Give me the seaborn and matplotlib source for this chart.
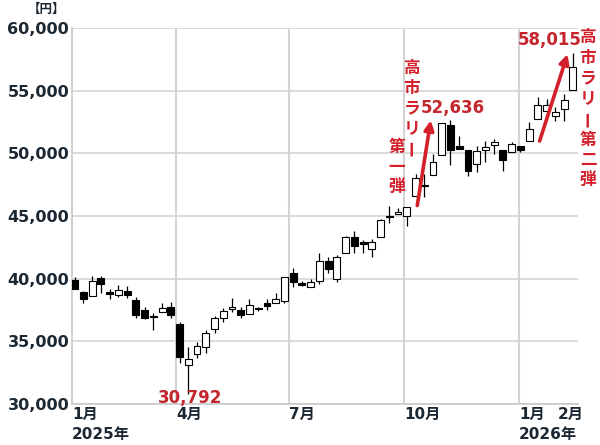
import numpy as np
import pandas as pd
import seaborn as sns
import matplotlib.pyplot as plt

# weekly candles (week ending Friday), Jan 2025 - Feb 2026
first_week = '2025-01-10'
opens = [39920, 38960, 38640, 40080, 38960, 38720, 39040, 38320, 37520, 37000,
         37360, 37760, 36400, 33120, 34000, 34560, 36000, 36880, 37620, 37520,
         37200, 37660, 38080, 38080, 38240, 40480, 39680, 39360, 39840, 41440,
         40000, 42080, 43360, 42960, 42400, 43360, 44920, 45200, 45040, 46560,
         47480, 48240, 49840, 52240, 50560, 50240, 49120, 50240, 50640, 50240,
         50080, 50560, 50960, 52720, 53360, 52960, 53520, 55040]
highs = [40160, 39000, 40240, 40200, 39200, 39520, 39440, 38560, 37760, 37280,
         38080, 38160, 36560, 34580, 34960, 35920, 37040, 37680, 38480, 37760,
         38400, 37760, 38400, 38880, 40160, 40880, 39840, 40000, 42080, 41760,
         41920, 43400, 43840, 43120, 43200, 44800, 45840, 45680, 45760, 48320,
         48320, 49920, 52400, 52636, 51360, 50240, 50560, 50960, 51120, 50240,
         50880, 50560, 52480, 54480, 54320, 53680, 54720, 58015]
lows = [39150, 38080, 38640, 38880, 38400, 38560, 38480, 36880, 36800, 35920,
        37360, 36880, 33280, 30792, 33680, 34080, 35680, 36560, 37360, 36880,
        37200, 37440, 37520, 38080, 38080, 39360, 39440, 39360, 39600, 40480,
        39760, 42080, 42080, 42080, 41760, 43360, 44480, 45200, 44240, 46560,
        46480, 48240, 49840, 49040, 50320, 48160, 48480, 49280, 49920, 48560,
        50080, 50080, 50960, 52720, 53280, 52560, 52560, 55040]
closes = [39200, 38400, 39840, 39600, 38800, 39120, 38720, 37120, 36880, 36940,
          37680, 37120, 33760, 33600, 34640, 35680, 36880, 37440, 37740, 37120,
          37920, 37580, 37840, 38400, 40160, 39760, 39520, 39760, 41440, 40800,
          41760, 43360, 42640, 42800, 42960, 44720, 45000, 45360, 45760, 48000,
          47400, 49280, 52400, 50240, 50320, 48560, 50160, 50480, 50880, 49440,
          50720, 50240, 51920, 53840, 53840, 53280, 54240, 56880]

y_ticks = [30000, 35000, 40000, 45000, 50000, 55000, 60000]
month_lines = ['2025-04-01', '2025-07-01', '2025-10-01', '2026-01-01']
x_tick_dates = ['2025-01-07 20:00', '2025-04-01 00:00', '2025-07-01 00:00',
                '2025-10-01 00:00', '2026-01-01 00:00', '2026-02-01 00:00']
x_tick_labels = ['1月\n2025年', '4月', '7月', '10月', '1月\n2026年', '2月']

low_label = '30,792'
high1_label = '52,636'
high2_label = '58,015'

df = pd.DataFrame({
    'date': pd.date_range(first_week, periods=len(opens), freq='W-FRI'),
    'open': opens, 'high': highs, 'low': lows, 'close': closes,
})
df['up'] = df['close'] >= df['open']
df['bottom'] = df[['open', 'close']].min(axis=1)
df['body'] = (df['close'] - df['open']).abs().clip(lower=90)

sns.set_style('white')
plt.rcParams['font.family'] = ['DejaVu Sans', 'Noto Sans CJK JP']

fig = plt.figure(figsize=(6, 4.45), dpi=100)
ax = fig.add_axes([0.12, 0.092, 0.843, 0.845])

grid_c = '#d4d4d4'
for v in y_ticks:
    ax.axhline(v, color=grid_c, lw=1.2, zorder=0)
for d in month_lines:
    ax.axvline(pd.Timestamp(d), color=grid_c, lw=1.5, zorder=0)

ax.vlines(df['date'], df['low'], df['high'], color='black', lw=0.9, zorder=2)
ax.bar(df['date'], df['body'], bottom=df['bottom'], width=5.5,
       color=np.where(df['up'], 'white', 'black'), edgecolor='black',
       linewidth=0.8, zorder=3)

ax.set_ylim(30000, 60000)
ax.set_xlim(pd.Timestamp('2025-01-07 20:00'), pd.Timestamp('2026-02-17'))
ax.set_yticks(y_ticks)
ax.set_yticklabels([f'{v:,}' for v in y_ticks], fontsize=11.5,
                   fontweight='bold', color='#1b2834')
ax.set_xticks(pd.to_datetime(x_tick_dates))
ax.set_xticklabels(x_tick_labels, fontsize=11, fontweight='bold',
                   color='#1b2834', ha='left', linespacing=1.4)
ax.tick_params(axis='both', length=0, pad=2)
for s in ['top', 'right']:
    ax.spines[s].set_visible(False)
for s in ['left', 'bottom']:
    ax.spines[s].set_color('#c8c8c8')
    ax.spines[s].set_linewidth(1.2)

fig.text(46 / 600, 1 - 9 / 445, '【円】', fontsize=9, fontweight='bold',
         color='#1b2834', ha='center', va='center',
         family=['Noto Sans CJK JP', 'DejaVu Sans'])

red = '#d4202a'
week = pd.Timedelta(days=7)
d0 = df['date'].iloc[0]
ax.text(d0 + 13.2 * week, 30450, low_label, color='#c4262e', fontsize=12,
        fontweight='bold', ha='center', va='center', zorder=5)
ax.text(d0 + 43.3 * week, 52900, high1_label, color='#c4262e', fontsize=12,
        fontweight='bold', ha='center', va='bottom', zorder=5)
ax.text(d0 + 54.3 * week, 58300, high2_label, color='#c4262e', fontsize=12,
        fontweight='bold', ha='center', va='bottom', zorder=5)

arrow = dict(arrowstyle='-|>', color=red, lw=2.6, mutation_scale=14,
             shrinkA=0, shrinkB=0)
ax.annotate('', xy=(d0 + 40.75 * week, 52640), xytext=(d0 + 39.2 * week, 45840),
            arrowprops=arrow, zorder=6)
ax.annotate('', xy=(d0 + 56.4 * week, 57920), xytext=(d0 + 53.2 * week, 50980),
            arrowprops=arrow, zorder=6)


def vtext(x_px, y_px, chars, step=20):
    for k, ch in enumerate(chars):
        fig.text(x_px / 600, 1 - (y_px + k * step) / 445, ch, color=red,
                 fontsize=12, fontweight='bold', ha='center', va='center',
                 family=['Noto Sans CJK JP', 'DejaVu Sans'],
                 rotation=90 if ch == 'ー' else 0)


vtext(412, 68, '高市ラリー')
vtext(397, 147, '第一弾', step=20)
vtext(588, 37, '高市ラリー第二弾', step=20.5)

fig.savefig('out.png', dpi=100)
